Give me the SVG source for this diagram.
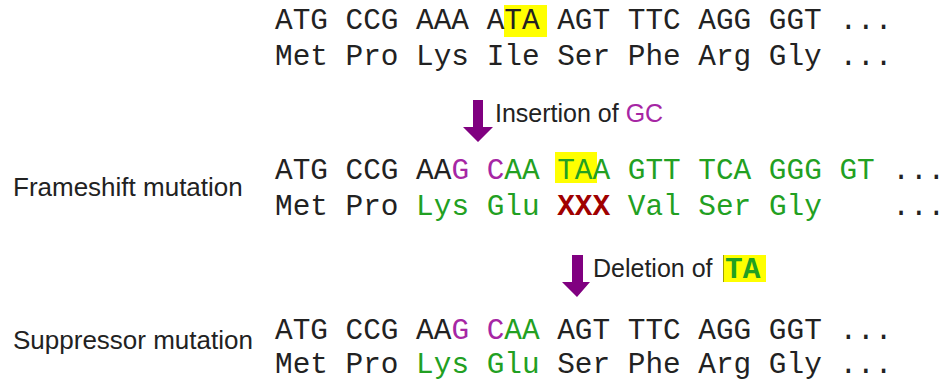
<svg xmlns="http://www.w3.org/2000/svg" width="951" height="386" viewBox="0 0 951 386">
<style>
.seq{font-family:"Liberation Mono","Courier New",monospace;font-size:29.4px;fill:#222}
.lbl{font-family:"Liberation Sans",Arial,sans-serif;font-size:26px;fill:#222}
.note{font-family:"Liberation Sans",Arial,sans-serif;font-size:25px;fill:#222}
.g{fill:#22a022}
.m{fill:#a626a4}
.x{fill:#a00000;font-weight:bold}
.hl{fill:#ffff00}
.arr{fill:#800080}
</style>
<rect width="951" height="386" fill="#fff"/>
<g id="original">
<rect class="hl" x="504" y="5" width="43" height="32"/>
<text class="seq" x="275" y="29" xml:space="preserve">ATG CCG AAA ATA AGT TTC AGG GGT ...</text>
<text class="seq" x="275" y="65" xml:space="preserve">Met Pro Lys Ile Ser Phe Arg Gly ...</text>
</g>
<g id="frameshift">
<text class="lbl" x="13" y="196">Frameshift mutation</text>
<rect class="hl" x="555" y="152" width="42" height="31"/>
<text class="seq" x="275" y="179" xml:space="preserve">ATG CCG AA<tspan class="m">G</tspan> <tspan class="m">C</tspan><tspan class="g">AA TAA GTT TCA GGG GT</tspan> ...</text>
<text class="seq" x="275" y="215" xml:space="preserve">Met Pro <tspan class="g">Lys Glu</tspan> <tspan class="x">XXX</tspan> <tspan class="g">Val Ser Gly</tspan>    ...</text>
</g>
<g id="suppressor">
<text class="lbl" x="13" y="349">Suppressor mutation</text>
<text class="seq" x="275" y="339" xml:space="preserve">ATG CCG AA<tspan class="m">G</tspan> <tspan class="m">C</tspan><tspan class="g">AA</tspan> AGT TTC AGG GGT ...</text>
<text class="seq" x="275" y="373" xml:space="preserve">Met Pro <tspan class="g">Lys Glu</tspan> Ser Phe Arg Gly ...</text>
</g>
<g id="connectors">
<g id="insertion">
<path class="arr" d="M473,100 H483 V127 H493 L478,142 L463,127 H473 Z"/>
<text class="note" x="495" y="122">Insertion of <tspan class="m">GC</tspan></text>
</g>
<g id="deletion">
<path class="arr" d="M572,255 H583 V282 H590 L577,297 L562,282 H572 Z"/>
<text class="note" x="593" y="277">Deletion of </text>
<rect class="hl" x="723" y="255" width="43" height="27"/>
<line x1="723.5" y1="255" x2="723.5" y2="282" stroke="#a0a000" stroke-width="1"/>
<text class="seq g" x="725" y="278" font-weight="bold">TA</text>
</g>
</g>
</svg>
